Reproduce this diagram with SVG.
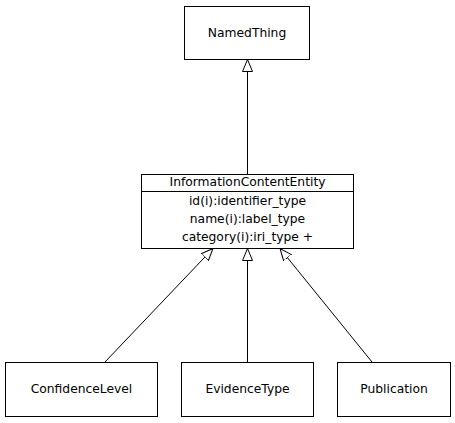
<svg xmlns="http://www.w3.org/2000/svg" width="455" height="423" viewBox="0 0 455 423">
<style>
.box{fill:#fff;stroke:#000;stroke-width:1}
.t{font-family:"DejaVu Sans",sans-serif;font-size:12.3px;fill:#000;text-anchor:middle}
.e{stroke:#000;stroke-width:1;fill:none}
</style>
<defs>
<marker id="tri" viewBox="0 0 12 12" refX="12" refY="6" markerWidth="12" markerHeight="12" markerUnits="userSpaceOnUse" orient="auto">
<path d="M0,1 L12,6 L0,11 Z" fill="#fff" stroke="#000" stroke-width="1"/>
</marker>
</defs>
<rect width="455" height="423" fill="#fff"/>
<g id="edges">
<line class="e" x1="247.5" y1="174" x2="247.5" y2="59.5" marker-end="url(#tri)"/>
<line class="e" x1="105" y1="362" x2="213" y2="248.5" marker-end="url(#tri)"/>
<line class="e" x1="247.5" y1="362" x2="247.5" y2="248.5" marker-end="url(#tri)"/>
<line class="e" x1="372" y1="362" x2="280" y2="248.5" marker-end="url(#tri)"/>
</g>
<g id="NamedThing">
<rect class="box" x="184.5" y="6.5" width="125" height="53"/>
<text class="t" x="247" y="37">NamedThing</text>
</g>
<g id="InformationContentEntity">
<rect class="box" x="141.5" y="174.5" width="212" height="74"/>
<line class="e" x1="141.5" y1="191.5" x2="353.5" y2="191.5"/>
<text class="t" x="247.5" y="186">InformationContentEntity</text>
<text class="t" x="247.5" y="205">id(i):identifier_type</text>
<text class="t" x="247.5" y="223">name(i):label_type</text>
<text class="t" x="247.5" y="241">category(i):iri_type +</text>
</g>
<g id="ConfidenceLevel">
<rect class="box" x="5.5" y="362.5" width="152" height="54"/>
<text class="t" x="81.5" y="393">ConfidenceLevel</text>
</g>
<g id="EvidenceType">
<rect class="box" x="181.5" y="362.5" width="132" height="54"/>
<text class="t" x="247.5" y="393">EvidenceType</text>
</g>
<g id="Publication">
<rect class="box" x="337.5" y="362.5" width="113" height="54"/>
<text class="t" x="394" y="393">Publication</text>
</g>
</svg>
